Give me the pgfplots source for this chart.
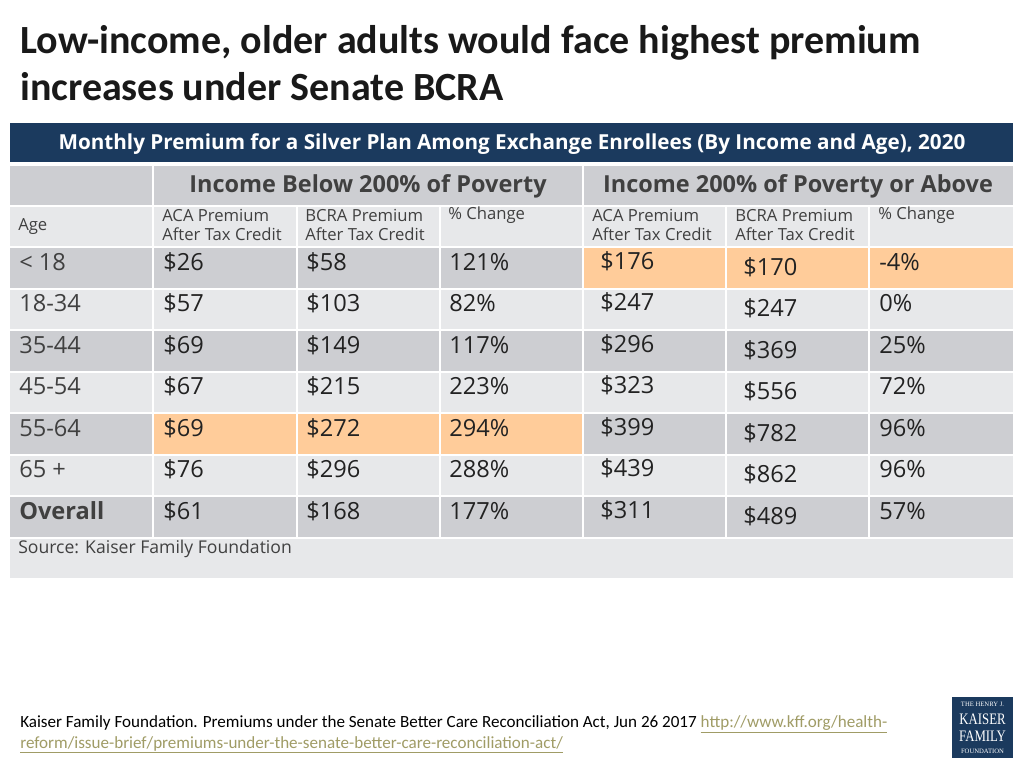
\documentclass[border=0pt]{standalone}
\usepackage{pgfplots}
\pgfplotsset{compat=1.18}
\usepackage{pgfplotstable}
\usepackage{fontspec}
\setmainfont{Open Sans}
\newfontfamily\carlito{Carlito}
\newfontfamily\lserif{Liberation Serif}
\newcommand\fs[1]{\fontsize{#1}{#1}\selectfont}
\definecolor{navy}{HTML}{1B3A5E}
\definecolor{dgray}{HTML}{CDCED2}
\definecolor{lgray}{HTML}{E7E8EA}
\definecolor{orng}{HTML}{FFCC9A}
\definecolor{txt}{HTML}{222222}
\definecolor{htxt}{HTML}{404040}
\definecolor{link}{HTML}{A09C66}

\pgfplotstableread[col sep=comma]{
row,age,aca1,bcra1,chg1,aca2,bcra2,chg2
0,< 18,26,58,121,176,170,-4
1,18-34,57,103,82,247,247,0
2,35-44,69,149,117,296,369,25
3,45-54,67,215,223,323,556,72
4,55-64,69,272,294,399,782,96
5,65 +,76,296,288,439,862,96
6,Overall,61,168,177,311,489,57
}\data

\begin{document}
\begin{tikzpicture}
\begin{axis}[
  scale only axis, width=768pt, height=576pt,
  xmin=0, xmax=1024, ymin=0, ymax=768, y dir=reverse,
  hide axis, clip=false,
  every node near coord/.append style={anchor=west, inner sep=0pt, font=\fs{17.7}, text=txt},
  point meta=explicit symbolic,
]
\fill[white] (axis cs:0,0) rectangle (axis cs:1024,768);
% title
\node[anchor=base west, inner sep=0pt, font=\carlito\bfseries\fs{30}, text=black!90] at (axis cs:20,53) {Low-income, older adults would face highest premium};
\node[anchor=base west, inner sep=0pt, font=\carlito\bfseries\fs{30}, text=black!90] at (axis cs:20,100) {increases under Senate BCRA};
% navy banner
\fill[navy] (axis cs:10,123) rectangle (axis cs:1013,162);
\node[font=\bfseries\fs{15.5}, text=white] at (axis cs:512,144) {Monthly Premium for a Silver Plan Among Exchange Enrollees (By Income and Age), 2020};
% row bands
\fill[dgray] (axis cs:10,166) rectangle (axis cs:1013,205);
\fill[lgray] (axis cs:10,207) rectangle (axis cs:1013,246);
\fill[dgray] (axis cs:10,248) rectangle (axis cs:1013,288);
\fill[lgray] (axis cs:10,290) rectangle (axis cs:1013,329);
\fill[dgray] (axis cs:10,331) rectangle (axis cs:1013,371);
\fill[lgray] (axis cs:10,373) rectangle (axis cs:1013,412);
\fill[dgray] (axis cs:10,414) rectangle (axis cs:1013,454);
\fill[lgray] (axis cs:10,456) rectangle (axis cs:1013,495);
\fill[dgray] (axis cs:10,497) rectangle (axis cs:1013,537);
\fill[lgray] (axis cs:10,539) rectangle (axis cs:1013,578);
% highlights
\fill[orng] (axis cs:583,248) rectangle (axis cs:1013,288);
\fill[orng] (axis cs:153,414) rectangle (axis cs:583,454);
% vertical separators
\draw[white, line width=1.5pt] (axis cs:153,166) -- (axis cs:153,538);
\draw[white, line width=1.5pt] (axis cs:583,166) -- (axis cs:583,538);
\draw[white, line width=1.5pt] (axis cs:297,206) -- (axis cs:297,538);
\draw[white, line width=1.5pt] (axis cs:440,206) -- (axis cs:440,538);
\draw[white, line width=1.5pt] (axis cs:726,206) -- (axis cs:726,538);
\draw[white, line width=1.5pt] (axis cs:869,206) -- (axis cs:869,538);
% headers
\node[font=\bfseries\fs{17.6}, text=htxt] at (axis cs:368,186) {Income Below 200\% of Poverty};
\node[font=\bfseries\fs{17.6}, text=htxt] at (axis cs:798,186) {Income 200\% of Poverty or Above};
\node[anchor=west, inner sep=0pt, font=\fs{12.5}, text=htxt] at (axis cs:18,227) {Age};
\node[anchor=west, inner sep=0pt, font=\fs{12.5}, text=htxt] at (axis cs:162,215) {ACA Premium};
\node[anchor=west, inner sep=0pt, font=\fs{12.5}, text=htxt] at (axis cs:162,234) {After Tax Credit};
\node[anchor=west, inner sep=0pt, font=\fs{12.5}, text=htxt] at (axis cs:305,215) {BCRA Premium};
\node[anchor=west, inner sep=0pt, font=\fs{12.5}, text=htxt] at (axis cs:305,234) {After Tax Credit};
\node[anchor=west, inner sep=0pt, font=\fs{12.5}, text=htxt] at (axis cs:448,215) {\% Change};
\node[anchor=west, inner sep=0pt, font=\fs{12.5}, text=htxt] at (axis cs:592,215) {ACA Premium};
\node[anchor=west, inner sep=0pt, font=\fs{12.5}, text=htxt] at (axis cs:592,234) {After Tax Credit};
\node[anchor=west, inner sep=0pt, font=\fs{12.5}, text=htxt] at (axis cs:735,215) {BCRA Premium};
\node[anchor=west, inner sep=0pt, font=\fs{12.5}, text=htxt] at (axis cs:735,234) {After Tax Credit};
\node[anchor=west, inner sep=0pt, font=\fs{12.5}, text=htxt] at (axis cs:878,215) {\% Change};
% data
\addplot[draw=none, mark=none, nodes near coords={\pgfplotspointmeta}, skip coords between index={6}{7},
  every node near coord/.append style={text=htxt}]
  table[x expr=19, y expr={262+41.5*\thisrow{row}}, meta=age] {\data};
\addplot[draw=none, mark=none, nodes near coords={\pgfplotspointmeta}, skip coords between index={0}{6},
  every node near coord/.append style={text=htxt, font=\bfseries\fs{17.7}}]
  table[x expr=19, y expr={262+41.5*\thisrow{row}}, meta=age] {\data};
\addplot[draw=none, mark=none, nodes near coords={\$\pgfplotspointmeta}]
  table[x expr=163, y expr={262+41.5*\thisrow{row}}, meta=aca1] {\data};
\addplot[draw=none, mark=none, nodes near coords={\$\pgfplotspointmeta}]
  table[x expr=306, y expr={262+41.5*\thisrow{row}}, meta=bcra1] {\data};
\addplot[draw=none, mark=none, nodes near coords={\pgfplotspointmeta\%}]
  table[x expr=449, y expr={262+41.5*\thisrow{row}}, meta=chg1] {\data};
\addplot[draw=none, mark=none, nodes near coords={\$\pgfplotspointmeta}]
  table[x expr=600, y expr={261+41.5*\thisrow{row}}, meta=aca2] {\data};
\addplot[draw=none, mark=none, nodes near coords={\$\pgfplotspointmeta}]
  table[x expr=743, y expr={267+41.5*\thisrow{row}}, meta=bcra2] {\data};
\addplot[draw=none, mark=none, nodes near coords={\pgfplotspointmeta\%}]
  table[x expr=879, y expr={262+41.5*\thisrow{row}}, meta=chg2] {\data};
% source
\node[anchor=west, inner sep=0pt, font=\fs{13.2}, text=htxt] at (axis cs:18,549) {Source: Kaiser Family Foundation};
% footer
\node[anchor=base west, inner sep=0pt, font=\carlito\fs{12.8}, text=black] at (axis cs:20,727) {Kaiser Family Foundation. Premiums under the Senate Better Care Reconciliation Act, Jun 26 2017 \textcolor{link}{\underline{http://www.kff.org/health-}}};
\node[anchor=base west, inner sep=0pt, font=\carlito\fs{12.8}, text=link] at (axis cs:20,748) {\underline{reform/issue-brief/premiums-under-the-senate-better-care-reconciliation-act/}};
% logo
\fill[navy] (axis cs:952,697) rectangle (axis cs:1013,758);
\node[font=\lserif\fs{5}, text=white, inner sep=0pt] at (axis cs:982.5,704) {THE HENRY J.};
\node[font=\lserif\fs{12}, text=white, inner sep=0pt, xscale=0.8] at (axis cs:982.5,719) {KAISER};
\node[font=\lserif\fs{12}, text=white, inner sep=0pt, xscale=0.8] at (axis cs:982.5,736) {FAMILY};
\node[font=\lserif\fs{5}, text=white, inner sep=0pt] at (axis cs:982.5,751) {FOUNDATION};
\end{axis}
\end{tikzpicture}
\end{document}
